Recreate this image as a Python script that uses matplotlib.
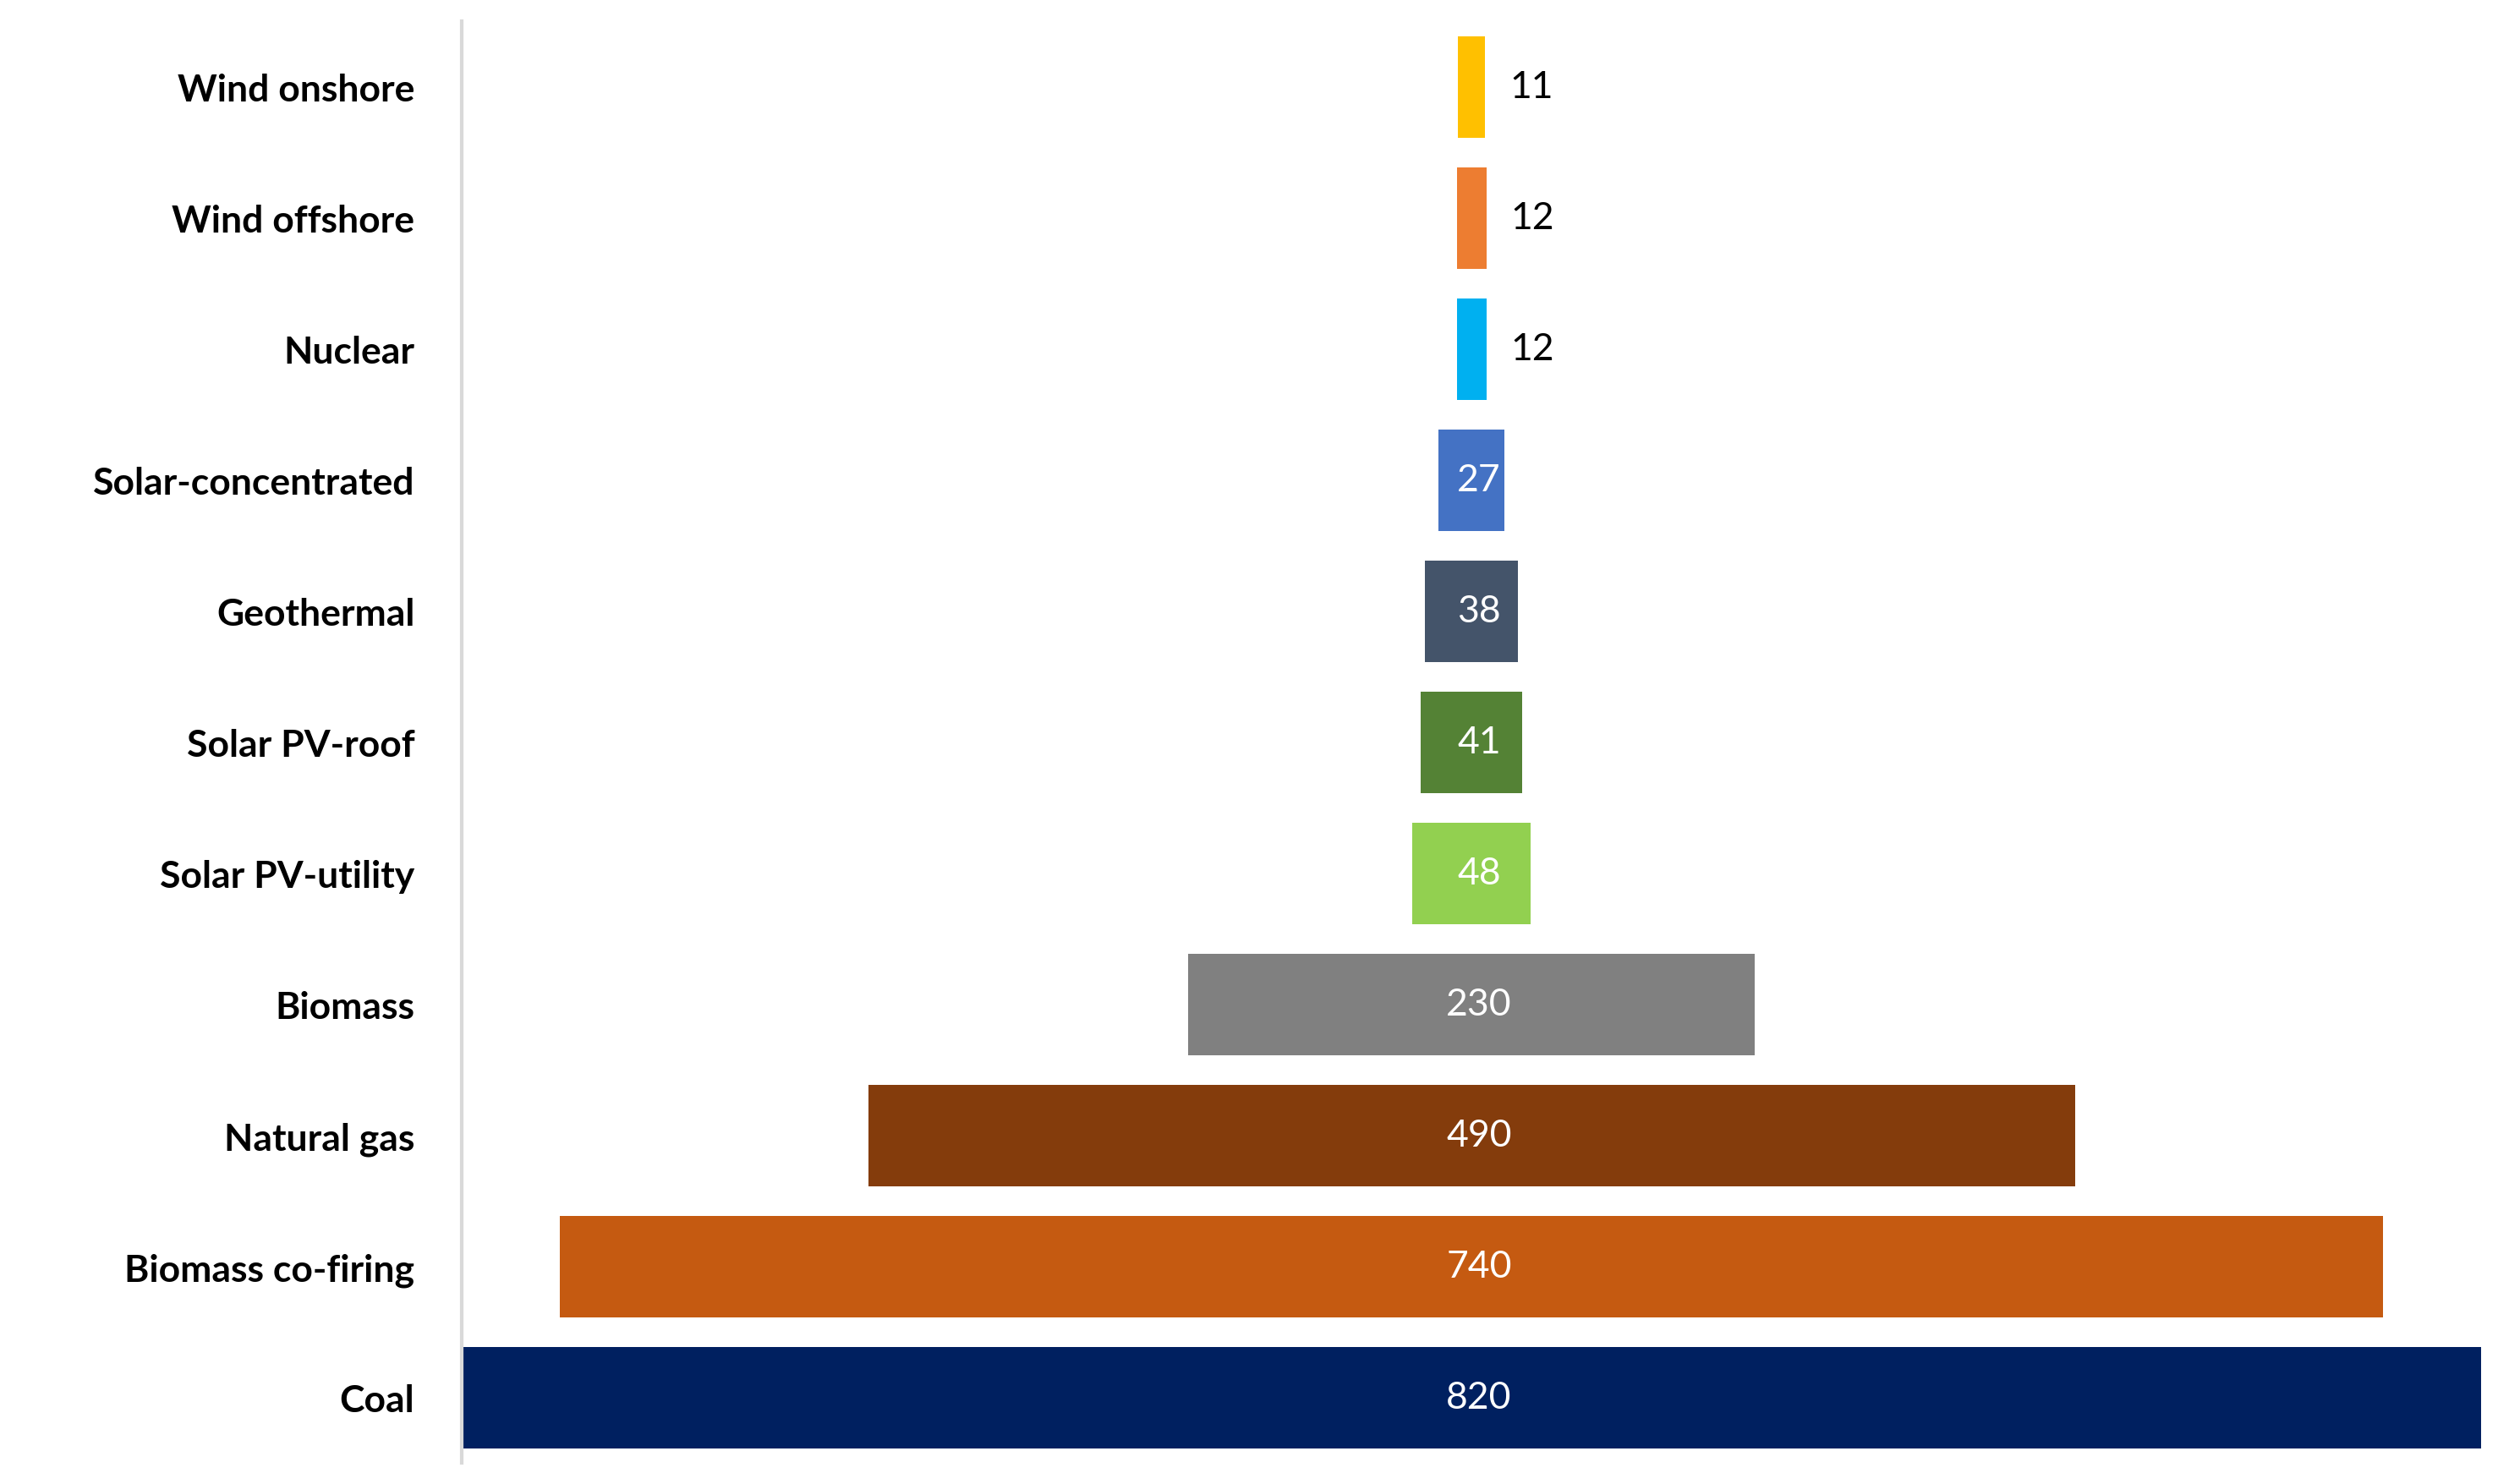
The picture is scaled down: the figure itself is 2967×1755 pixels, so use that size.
import matplotlib
matplotlib.use("Agg")
import matplotlib.pyplot as plt

categories = ["Wind onshore", "Wind offshore", "Nuclear", "Solar-concentrated", "Geothermal",
              "Solar PV-roof", "Solar PV-utility", "Biomass", "Natural gas", "Biomass co-firing", "Coal"]
values = [11, 12, 12, 27, 38, 41, 48, 230, 490, 740, 820]
colors = ["#FFC000", "#ED7D31", "#00B0F0", "#4472C4", "#44546A", "#548235", "#92D050",
          "#808080", "#843C0C", "#C55A11", "#002060"]

plt.rcParams['font.family'] = ['Lato', 'DejaVu Sans']
fig = plt.figure(figsize=(29.67, 17.56), dpi=100)
ax = fig.add_axes([0.184, 0.014, 0.805, 0.971])
ys = list(range(len(categories)))[::-1]
for y, v, c in zip(ys, values, colors):
    ax.barh(y, v, left=-v / 2, height=0.77, color=c)
    if v < 20:
        ax.text(v / 2 + 10, y, str(v), va='center', ha='left', fontsize=32, color='black')
    else:
        ax.text(3, y, str(v), va='center', ha='center', fontsize=32, color='white')
ax.set_xlim(-410, 410)
ax.set_ylim(-0.5, len(categories) - 0.5)
ax.set_yticks(ys)
ax.set_yticklabels(categories, fontsize=32, fontweight='bold')
ax.tick_params(axis='y', length=0, pad=40)
ax.set_xticks([])
for s in ['top', 'right', 'bottom']:
    ax.spines[s].set_visible(False)
ax.spines['left'].set_color('#D9D9D9')
ax.spines['left'].set_linewidth(3)
fig.savefig("out.png", dpi=100)
